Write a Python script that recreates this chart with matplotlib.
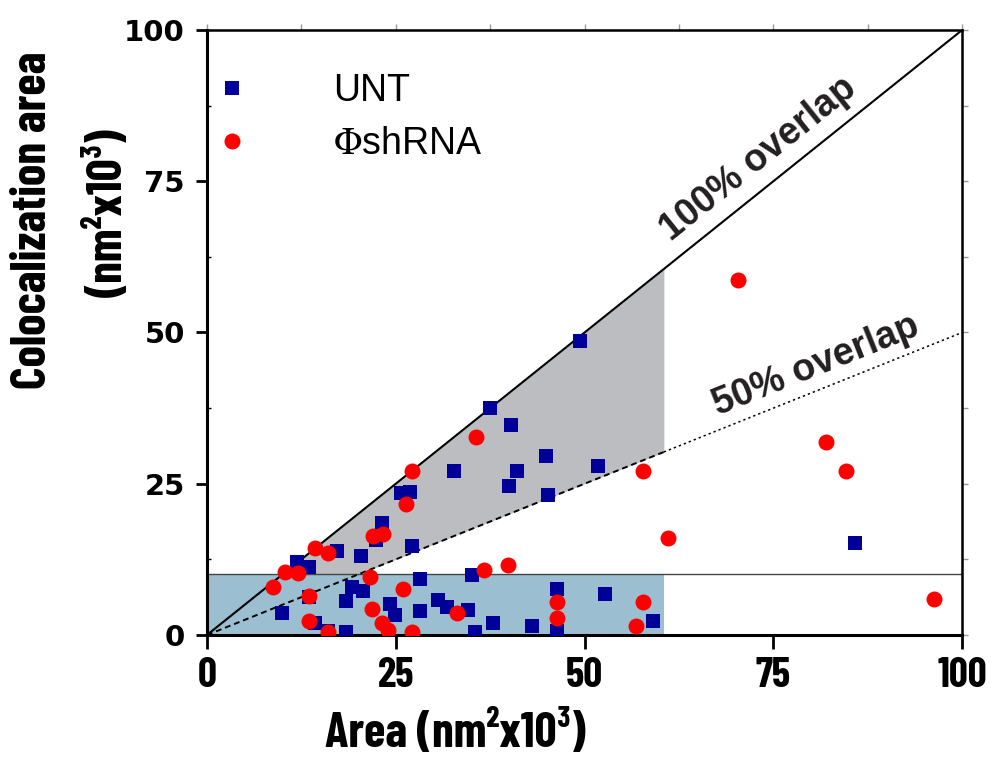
import numpy as np
import matplotlib
matplotlib.use("Agg")
import matplotlib.pyplot as plt
import matplotlib.font_manager as fm
from matplotlib.ticker import MultipleLocator

# UNT (blue squares)
unt_x = [49.4, 37.5, 40.3, 44.9, 51.8, 41.1, 32.7, 40.0, 45.2, 25.7, 26.9, 23.2, 22.4, 17.2,
         20.4, 27.2, 11.9, 13.5, 85.8, 19.2, 20.7, 18.4, 24.2, 24.9, 28.2, 28.2, 30.6, 31.8,
         34.6, 35.1, 35.5, 37.9, 43.0, 46.4, 46.4, 52.7, 59.1, 9.9, 13.5, 14.3, 16.0, 18.4]
unt_y = [48.6, 37.5, 34.7, 29.6, 27.9, 27.1, 27.1, 24.6, 23.1, 23.5, 23.6, 18.5, 15.7, 13.9,
         13.1, 14.7, 12.1, 11.2, 15.2, 7.9, 7.3, 5.6, 5.1, 3.3, 9.3, 4.0, 5.8, 4.6,
         4.1, 9.9, 0.5, 2.0, 1.5, 7.6, 0.7, 6.8, 2.3, 3.6, 6.3, 2.0, 0.7, 0.5]

# PhishRNA (red circles)
red_x = [70.3, 81.9, 84.6, 61.1, 96.2, 57.7, 57.7, 56.8, 46.4, 46.4, 39.9, 36.7, 35.6, 33.1,
         21.6, 26.0, 21.9, 23.2, 24.0, 27.2, 14.3, 16.0, 10.3, 12.1, 8.7, 13.5, 13.5, 16.0,
         27.2, 26.4, 22.0, 23.3]
red_y = [58.7, 31.9, 27.1, 16.0, 6.0, 27.1, 5.5, 1.5, 5.5, 2.8, 11.6, 10.7, 32.7, 3.6,
         9.6, 7.6, 4.3, 2.0, 0.8, 0.5, 14.4, 13.6, 10.4, 10.2, 7.9, 6.4, 2.3, 0.5,
         27.1, 21.7, 16.4, 16.7]

overlap_fracs = [1.0, 0.5]
overlap_labels = ["100% overlap", "50% overlap"]
shade_xmax = 60.5
band_ymax = 10
ticks = [0, 25, 50, 75, 100]

# condensed bold font for the axis titles (Calibri-like in the original)
avail = {f.name for f in fm.fontManager.ttflist}
narrow = dict(family="DejaVu Sans", fontweight="bold", fontstretch="condensed")
title_size, xtick_size = 30, 24
for cand in ["Barlow Condensed", "Barlow Semi Condensed", "Asap Condensed", "Liberation Sans Narrow"]:
    if cand in avail:
        narrow = dict(family=cand, fontweight="bold")
        title_size, xtick_size = (35, 30) if cand == "Barlow Condensed" else (32, 26)
        break

fig = plt.figure(figsize=(9.97, 7.61), dpi=100)
ax = fig.add_axes([0.2076, 0.1656, 0.7575, 0.795])
ax.set_xlim(0, 100)
ax.set_ylim(0, 100)

# shaded regions
xs = np.linspace(0, shade_xmax, 50)
ax.fill_between(xs, overlap_fracs[1] * xs, overlap_fracs[0] * xs, color="#bcbdc1", lw=0, zorder=1)
ax.fill_between([0, shade_xmax], 0, band_ymax, color="#9bbfd1", lw=0, zorder=1.5)
ax.axhline(band_ymax, color="#444444", lw=1, zorder=2)

# overlap lines
xl = np.array([0, 100])
ax.plot(xl, overlap_fracs[0] * xl, color="black", lw=1.5, zorder=3)
xd1 = np.array([0, shade_xmax])
xd2 = np.array([shade_xmax, 100])
ax.plot(xd1, overlap_fracs[1] * xd1, color="black", lw=1.4, ls=(0, (3, 2)), zorder=3)
ax.plot(xd2, overlap_fracs[1] * xd2, color="black", lw=1.1, ls=(0, (1.5, 2)), zorder=3)

ax.plot(unt_x, unt_y, "s", color="#000099", ms=9.5, mew=0, label="UNT", zorder=4)
ax.plot(red_x, red_y, "o", color="#ff0000", ms=11.5, mew=0, label=r"$\Phi$shRNA", zorder=5)

ax.text(73.0, 78.6, overlap_labels[0], rotation=45, transform_rotates_text=True,
        rotation_mode="anchor", ha="center", va="center", fontsize=27,
        fontweight="bold", family="Liberation Sans", color="#231f20")
ax.text(80.6, 44.6, overlap_labels[1], rotation=np.degrees(np.arctan(0.5)),
        transform_rotates_text=True, rotation_mode="anchor", ha="center", va="center",
        fontsize=27, fontweight="bold", family="Liberation Sans", color="#231f20")

leg = ax.legend(loc="upper left", bbox_to_anchor=(0.0086, 0.929), frameon=False,
                prop={"family": "Liberation Sans", "size": 27}, handlelength=1.0,
                handletextpad=2.2, borderpad=0, borderaxespad=0, labelspacing=0.46,
                markerscale=1.0)
for t in leg.get_texts():
    t.set_math_fontfamily("stix")

# axes styling
for side in ["left", "bottom"]:
    ax.spines[side].set_linewidth(2.2)
for side in ["top", "right"]:
    ax.spines[side].set_linewidth(1.8)

ax.set_xticks(ticks)
ax.set_yticks(ticks)
ax.yaxis.set_minor_locator(MultipleLocator(12.5))
ax.tick_params(axis="both", which="major", direction="out", width=2, length=8, color="black")
ax.tick_params(axis="x", which="major", length=10, pad=6)
ax.tick_params(axis="y", which="major", pad=8)
ax.tick_params(axis="y", which="minor", direction="in", length=3, width=1)
for lab in ax.get_xticklabels():
    lab.set_fontsize(xtick_size)
    lab.set_fontweight("bold")
    lab.set_family(narrow["family"])
    if "fontstretch" in narrow:
        lab.set_fontstretch("condensed")
for lab in ax.get_yticklabels():
    lab.set_fontsize(21)
    lab.set_fontweight("heavy")
    lab.set_family("DejaVu Sans")

top = ax.secondary_xaxis("top")
top.set_xticks(np.arange(0, 101, 12.5))
top.set_xticklabels([])
top.tick_params(length=4, color="#999999", width=1)
right = ax.secondary_yaxis("right")
right.set_yticks(np.arange(0, 101, 12.5))
right.set_yticklabels([])
right.tick_params(length=4, color="#999999", width=1)

# axis titles
fig.text(455 / 997, 1 - 733 / 761, "Area (nm²x10³)", ha="center", va="center",
         fontsize=title_size, **narrow)
fig.text(33 / 997, 1 - 220 / 761, "Colocalization area", rotation=90, ha="center", va="center",
         fontsize=title_size, **narrow)
fig.text(108 / 997, 1 - 213 / 761, "(nm²x10³)", rotation=90, ha="center", va="center",
         fontsize=title_size, **narrow)

fig.savefig("out.png", dpi=100)
